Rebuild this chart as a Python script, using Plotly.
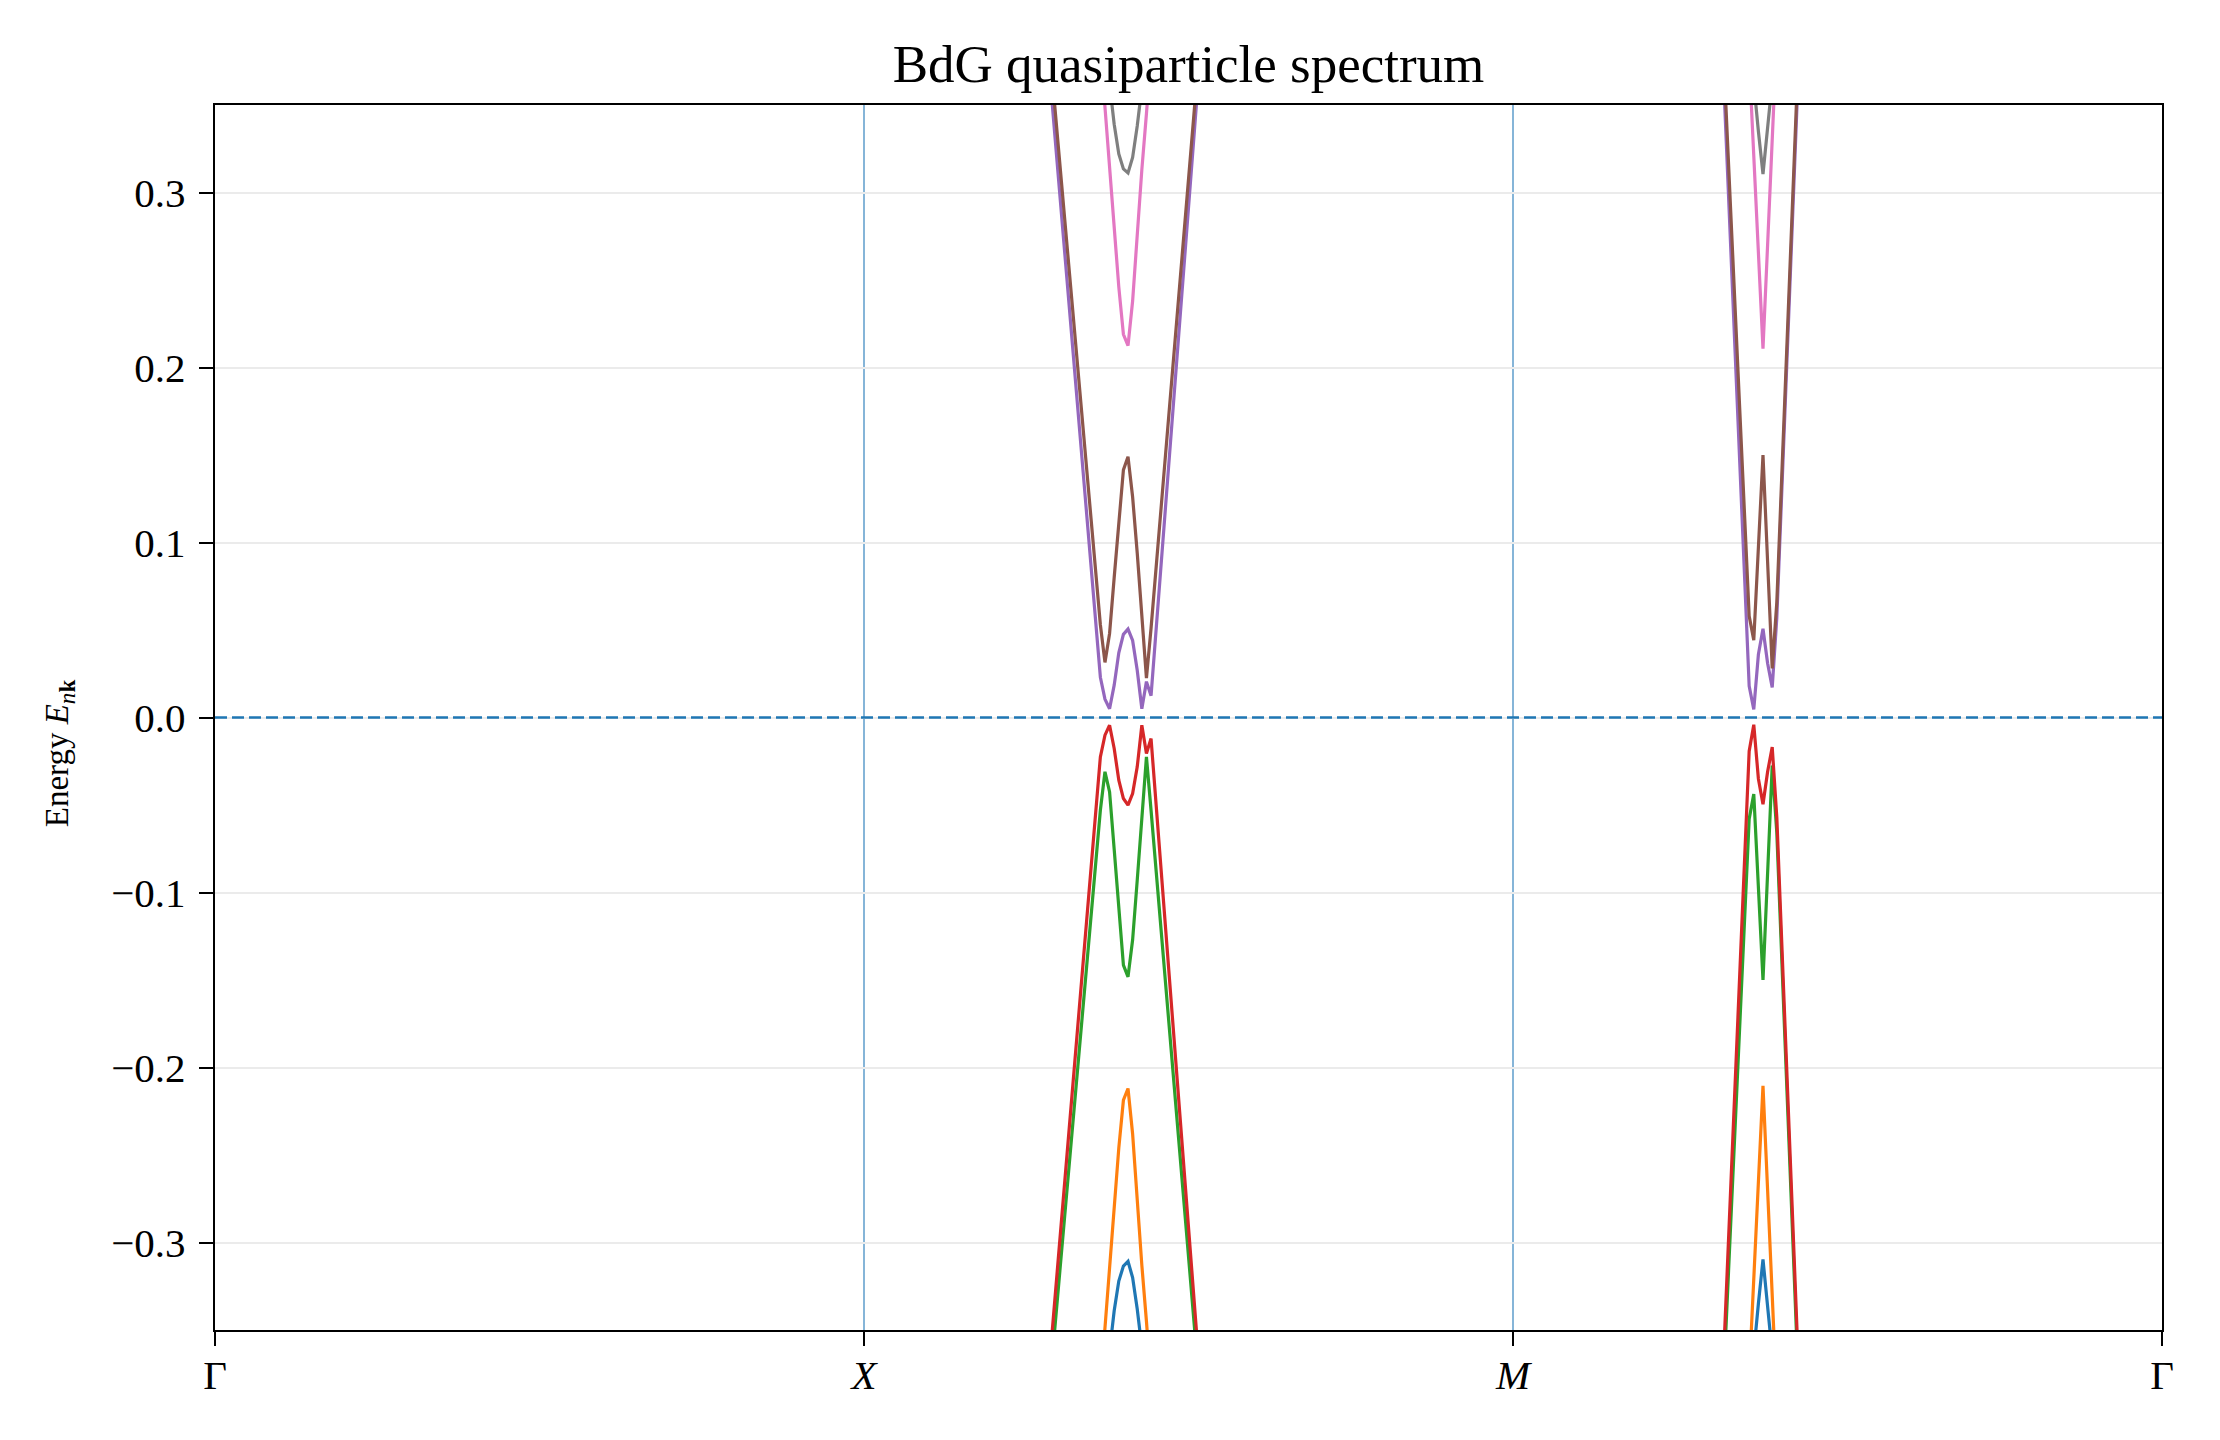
import plotly.graph_objects as go

# ---------------- data ----------------
SYM_POS = [0, 1, 2, 3]
SYM_LABELS = ["Γ", "<i>X</i>", "<i>M</i>", "Γ"]
Y_TICKS = [-0.3, -0.2, -0.1, 0.0, 0.1, 0.2, 0.3]
E_FERMI = 0.0

# feature near k ~ 1.41 (X -> M)
k1_purple = [1.2820, 1.3642, 1.3713, 1.3784, 1.3855, 1.3926, 1.3997, 1.4068, 1.4139, 1.4210, 1.4281, 1.4352, 1.4423, 1.5200]
e1_purple = [0.386, 0.023, 0.0105, 0.005, 0.0185, 0.037, 0.0475, 0.0505, 0.044, 0.027, 0.005, 0.0205, 0.0125, 0.388]
e1_red = [-0.386, -0.0225, -0.0101, -0.0044, -0.0177, -0.0358, -0.0463, -0.0501, -0.0435, -0.0282, -0.0044, -0.0206, -0.012, -0.388]

k1_brown = [1.2860, 1.3642, 1.3713, 1.3784, 1.3855, 1.3926, 1.3997, 1.4068, 1.4139, 1.4210, 1.4281, 1.4352, 1.4423, 1.5180]
e1_brown = [0.383, 0.053, 0.0315, 0.048, 0.080, 0.113, 0.1415, 0.149, 0.126, 0.094, 0.059, 0.0225, 0.051, 0.3875]
e1_green = [-0.383, -0.053, -0.031, -0.0425, -0.0754, -0.1086, -0.1415, -0.1482, -0.127, -0.093, -0.0577, -0.0225, -0.053, -0.3875]

k1_pink = [1.3642, 1.3713, 1.3784, 1.3855, 1.3926, 1.3997, 1.4068, 1.4139, 1.4210, 1.4281, 1.4352, 1.4423]
e1_pink = [0.383, 0.349, 0.314, 0.280, 0.246, 0.219, 0.2125, 0.238, 0.2766, 0.313, 0.345, 0.380]
e1_orange = [-0.383, -0.349, -0.314, -0.280, -0.246, -0.2187, -0.212, -0.238, -0.276, -0.313, -0.345, -0.380]

k1_gray = [1.3713, 1.3784, 1.3855, 1.3926, 1.3997, 1.4068, 1.4139, 1.4210, 1.4281, 1.4352]
e1_gray = [0.385, 0.360, 0.339, 0.322, 0.3135, 0.3112, 0.320, 0.338, 0.358, 0.382]
e1_blue = [-0.385, -0.360, -0.339, -0.322, -0.3135, -0.3108, -0.320, -0.338, -0.358, -0.382]

# feature near k ~ 2.385 (M -> Gamma)
k2_purple = [2.3228, 2.3639, 2.3710, 2.3781, 2.3852, 2.3923, 2.3994, 2.4065, 2.4410]
e2_purple = [0.380, 0.018, 0.0046, 0.036, 0.0507, 0.031, 0.0172, 0.057, 0.382]
e2_red = [-0.380, -0.0193, -0.0041, -0.035, -0.0496, -0.031, -0.0169, -0.057, -0.382]

k2_brown = [2.3243, 2.3639, 2.3710, 2.3781, 2.3852, 2.3923, 2.3994, 2.4065, 2.4400]
e2_brown = [0.380, 0.058, 0.0442, 0.099, 0.1499, 0.089, 0.028, 0.066, 0.382]
e2_green = [-0.380, -0.058, -0.0438, -0.097, -0.150, -0.089, -0.0274, -0.066, -0.382]

k2_pink = [2.3639, 2.3710, 2.3781, 2.3852, 2.3923, 2.3994, 2.4065]
e2_pink = [0.376, 0.321, 0.266, 0.2108, 0.270, 0.331, 0.390]
e2_orange = [-0.376, -0.321, -0.266, -0.2105, -0.270, -0.331, -0.390]

k2_gray = [2.3639, 2.3710, 2.3781, 2.3852, 2.3923, 2.3994, 2.4065]
e2_gray = [0.390, 0.360, 0.335, 0.3105, 0.338, 0.365, 0.390]
e2_blue = [-0.390, -0.360, -0.335, -0.3097, -0.338, -0.365, -0.390]

BAND_COLORS = ["#1f77b4", "#ff7f0e", "#2ca02c", "#d62728",
               "#9467bd", "#8c564b", "#e377c2", "#7f7f7f"]

# band index order 0..7 (lowest to highest)
BANDS = [
    (k1_gray, e1_blue, k2_gray, e2_blue),
    (k1_pink, e1_orange, k2_pink, e2_orange),
    (k1_brown, e1_green, k2_brown, e2_green),
    (k1_purple, e1_red, k2_purple, e2_red),
    (k1_purple, e1_purple, k2_purple, e2_purple),
    (k1_brown, e1_brown, k2_brown, e2_brown),
    (k1_pink, e1_pink, k2_pink, e2_pink),
    (k1_gray, e1_gray, k2_gray, e2_gray),
]

FONT = "Liberation Serif"

fig = go.Figure()

for i, (ka, ea, kb, eb) in enumerate(BANDS):
    fig.add_trace(go.Scatter(
        x=list(ka) + [None] + list(kb),
        y=list(ea) + [None] + list(eb),
        mode="lines",
        line=dict(color=BAND_COLORS[i], width=3.2),
        connectgaps=False,
        showlegend=False,
        hoverinfo="skip",
    ))

# high-symmetry vertical lines
for xv in SYM_POS[1:-1]:
    fig.add_shape(type="line", xref="x", yref="paper", x0=xv, x1=xv, y0=0, y1=1,
                  line=dict(color="#86b5d8", width=2.0), layer="below")

# Fermi level
fig.add_shape(type="line", xref="paper", yref="y", x0=0, x1=1, y0=E_FERMI, y1=E_FERMI,
              line=dict(color="#1f77b4", width=2.6, dash="12px,5px"), layer="above")

fig.update_layout(
    width=2220, height=1440,
    margin=dict(l=215, r=58, t=105, b=110),
    paper_bgcolor="white", plot_bgcolor="white",
    font=dict(family=FONT, size=41, color="black"),
    title=dict(text="BdG quasiparticle spectrum", x=0.5, xref="paper",
               y=1 - 63 / 1440, yref="container", yanchor="middle", xanchor="center",
               font=dict(family=FONT, size=53, color="black")),
    showlegend=False,
)

fig.update_xaxes(
    range=[SYM_POS[0], SYM_POS[-1]],
    tickvals=SYM_POS, ticktext=SYM_LABELS,
    showgrid=False, zeroline=False,
    showline=True, linecolor="black", linewidth=2.4, mirror=True,
    ticks="outside", ticklen=14, tickwidth=2.4, tickcolor="black",
    ticklabelstandoff=-6,
    tickfont=dict(family=FONT, size=41, color="black"),
)

fig.update_yaxes(
    range=[-0.35, 0.35],
    tickvals=Y_TICKS, tickformat=".1f",
    showgrid=True, gridcolor="#ebebeb", gridwidth=2,
    zeroline=False,
    showline=True, linecolor="black", linewidth=2.4, mirror=True,
    ticks="outside", ticklen=14, tickwidth=2.4, tickcolor="black",
    ticklabelstandoff=5,
    tickfont=dict(family=FONT, size=41, color="black"),
)

fig.add_annotation(
    text="Energy <i>E</i><sub><i>n</i><b>k</b></sub>",
    xref="paper", yref="paper", x=-0.080, y=0.471,
    xanchor="center", yanchor="middle", textangle=-90, showarrow=False,
    font=dict(family=FONT, size=33, color="black"),
)

fig.write_html("out.html")
